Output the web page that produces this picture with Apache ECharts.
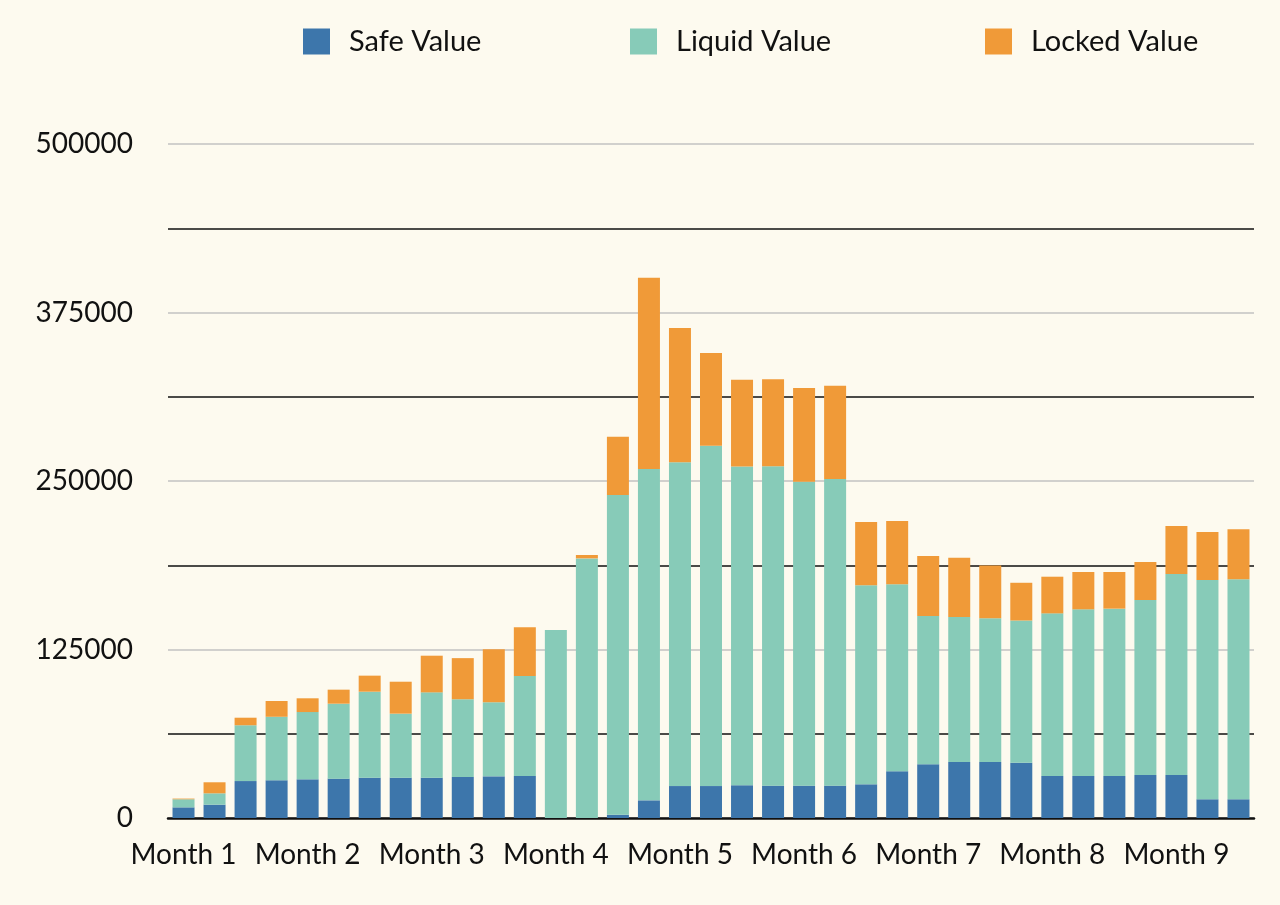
<!DOCTYPE html>
<html>
<head>
<meta charset="utf-8">
<script src="https://cdn.jsdelivr.net/npm/echarts@6/dist/echarts.min.js"></script>
<style>
html,body{margin:0;padding:0;background:#fdfaef;}
#chart{width:1280px;height:905px;}
</style>
</head>
<body>
<div id="chart"></div>
<script>
const weeks = [];
for (let i = 1; i <= 35; i++) weeks.push('Week ' + i);
const monthLabels = ['Month 1','Month 2','Month 3','Month 4','Month 5','Month 6','Month 7','Month 8','Month 9'];
const yTicks = [0, 125000, 250000, 375000, 500000];

const safeValue = [7900, 9900, 27400, 28000, 28700, 29200, 29900, 29900, 29900, 30500, 30900, 31200,
  0, 0, 2400, 13100, 23700, 23700, 24300, 24000, 24000, 24000, 25000, 34600,
  39800, 41500, 41500, 41000, 31200, 31200, 31200, 31900, 31900, 13900, 13900];
const liquidValue = [6000, 8400, 41400, 47100, 49900, 55600, 63800, 47500, 63300, 57600, 54900, 74100,
  139500, 192600, 237200, 245800, 240200, 252500, 236500, 236900, 225500, 227500, 147600, 138800,
  110000, 107600, 106600, 105500, 120600, 123600, 124100, 129800, 149100, 162600, 163200];
const lockedValue = [500, 8200, 5600, 11700, 10200, 10400, 11900, 23700, 27200, 30500, 39300, 36200,
  0, 2500, 43200, 141900, 99600, 68700, 64300, 64500, 69500, 69200, 47000, 46900,
  44600, 44000, 39300, 28000, 27200, 27700, 27200, 28200, 35600, 35700, 37100];

const FONT = 'Lato';
const chart = echarts.init(document.getElementById('chart'), null, {renderer: 'canvas'});

function legendAt(name, left) {
  return {
    data: [name], left: left, top: 27, padding: 0, icon: 'rect', itemWidth: 27, itemHeight: 26,
    selectedMode: false,
    textStyle: {fontFamily: FONT, fontSize: 29, color: '#111', padding: [0, 0, 0, 14]}
  };
}

chart.setOption({
  backgroundColor: '#fdfaef',
  animation: false,
  legend: [legendAt('Safe Value', 303), legendAt('Liquid Value', 630), legendAt('Locked Value', 985)],
  grid: {left: 168, right: 26, top: 144, bottom: 87, containLabel: false},
  xAxis: {
    type: 'category', data: weeks,
    axisLine: {show: true, lineStyle: {color: '#111', width: 2.5}},
    axisTick: {show: false},
    axisLabel: {
      interval: 3, margin: 23, fontFamily: FONT, fontSize: 28, color: '#111',
      formatter: function (v, i) { return monthLabels[Math.floor(i / 4)] || ''; }
    }
  },
  yAxis: {
    type: 'value', min: yTicks[0], max: yTicks[yTicks.length - 1], interval: yTicks[1] - yTicks[0],
    axisLine: {show: false}, axisTick: {show: false},
    axisLabel: {margin: 35, fontFamily: FONT, fontSize: 28, color: '#111',
      formatter: function (v) { return String(v); }},
    splitLine: {show: true, lineStyle: {color: '#c2c2c2', width: 1.5}},
    minorTick: {show: false, splitNumber: 2},
    minorSplitLine: {show: true, lineStyle: {color: '#111', width: 1.5}}
  },
  series: [
    {name: 'Safe Value', type: 'bar', stack: 'v', data: safeValue, barWidth: 22,
      itemStyle: {color: '#3d76ab'}},
    {name: 'Liquid Value', type: 'bar', stack: 'v', data: liquidValue, barWidth: 22,
      itemStyle: {color: '#87cbb8'}},
    {name: 'Locked Value', type: 'bar', stack: 'v', data: lockedValue, barWidth: 22,
      itemStyle: {color: '#f09a38'}}
  ]
});
</script>
</body>
</html>
